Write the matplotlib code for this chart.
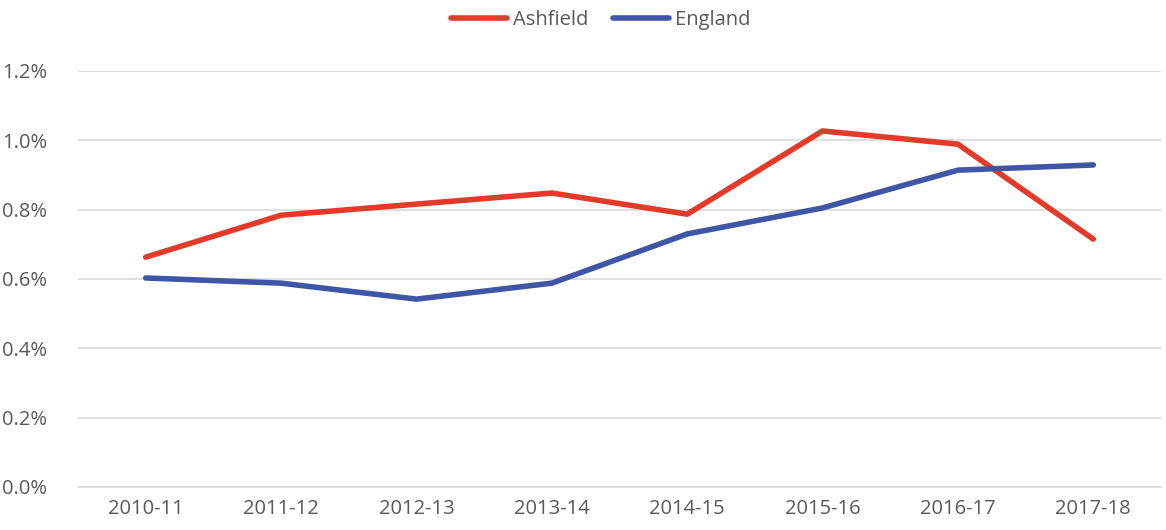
import matplotlib.pyplot as plt
from matplotlib.ticker import FuncFormatter

years = ["2010-11", "2011-12", "2012-13", "2013-14", "2014-15", "2015-16", "2016-17", "2017-18"]
ashfield = [0.663, 0.784, 0.816, 0.848, 0.787, 1.027, 0.989, 0.715]
england = [0.603, 0.588, 0.542, 0.588, 0.730, 0.805, 0.914, 0.929]

plt.rcParams['font.family'] = ['Open Sans', 'DejaVu Sans']

fig = plt.figure(figsize=(11.66, 5.3), dpi=100)
ax = fig.add_axes([78 / 1166, 1 - 487 / 530, (1161 - 78) / 1166, (487 - 71) / 530])

x = range(len(years))
ax.plot(x, ashfield, color="#e33a2a", lw=4, label="Ashfield", solid_capstyle="round")
ax.plot(x, england, color="#3f55a5", lw=4, label="England", solid_capstyle="round")

ax.set_xlim(-0.5, len(years) - 0.5)
ax.set_ylim(0, 1.2)
ax.set_yticks([0, 0.2, 0.4, 0.6, 0.8, 1.0, 1.2])
ax.yaxis.set_major_formatter(FuncFormatter(lambda v, p: f"{v:.1f}%"))
ax.set_xticks(list(x))
ax.set_xticklabels(years)
ax.grid(axis="y", color="#d9d9d9", lw=1.2)
ax.set_axisbelow(True)
for s in ["top", "right", "left"]:
    ax.spines[s].set_visible(False)
ax.spines["bottom"].set_color("#d9d9d9")
ax.spines["bottom"].set_linewidth(1.2)
ax.tick_params(length=0, labelsize=14.5, colors="#595959", pad=9)
ax.tick_params(axis="y", pad=22)

leg = fig.legend(loc="upper center", bbox_to_anchor=(0.515, 1.015), ncol=2, frameon=False,
                 fontsize=14.5, handlelength=2.8, columnspacing=1.2, handletextpad=0.3)
for t in leg.get_texts():
    t.set_color("#595959")

fig.savefig("out.png", dpi=100)
